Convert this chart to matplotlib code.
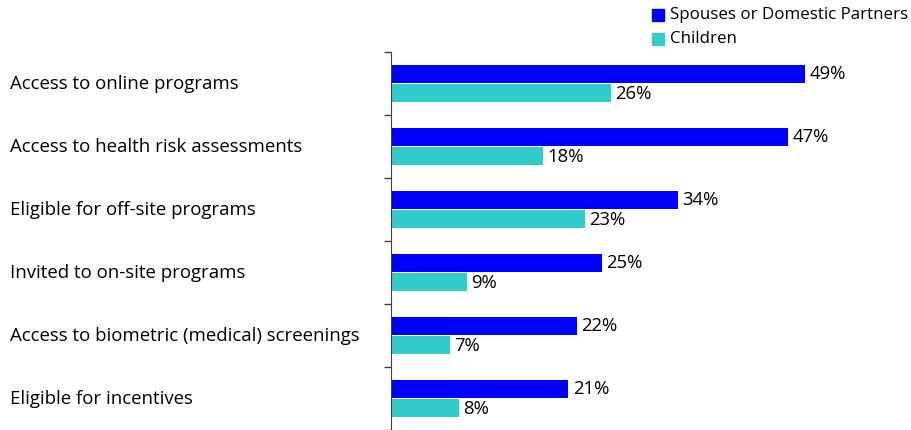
import numpy as np
import matplotlib
matplotlib.use("Agg")
import matplotlib.pyplot as plt
from matplotlib.patches import Rectangle

plt.rcParams['font.family'] = ['Open Sans', 'DejaVu Sans']

categories = ["Access to online programs",
              "Access to health risk assessments",
              "Eligible for off-site programs",
              "Invited to on-site programs",
              "Access to biometric (medical) screenings",
              "Eligible for incentives"]
spouses = [49, 47, 34, 25, 22, 21]
children = [26, 18, 23, 9, 7, 8]
series_names = ["Spouses or Domestic Partners", "Children"]
colors = ["#0000FF", "#33CCCC"]

fig = plt.figure(figsize=(9.12, 4.3), dpi=100)
ax = fig.add_axes([391/912, 0, (880-391)/912, 1 - 52/430])

n = len(categories)
pos = np.arange(n)
h = 0.29
# blue bar above, cyan below within each slot
ax.barh(pos - h/2 - 0.005, spouses, height=h, color=colors[0])
ax.barh(pos + h/2 + 0.005, children, height=h, color=colors[1])

for i in range(n):
    ax.text(spouses[i] + 0.5, pos[i] - h/2, f"{spouses[i]}%", va='center', ha='left', fontsize=13.3)
    ax.text(children[i] + 0.5, pos[i] + h/2 + 0.02, f"{children[i]}%", va='center', ha='left', fontsize=13.3)
    fig.text(10/912, 1 - (84 + 63*i)/430, categories[i], va='center', ha='left', fontsize=13.4)

ax.set_ylim(n - 0.5, -0.5)
ax.set_xlim(0, (880-391)/8.45)
ax.set_yticks(np.arange(n + 1) - 0.5)
ax.set_yticklabels([])
ax.tick_params(axis='y', length=5, width=1, direction='out', color='#404040')
ax.set_xticks([])
for s in ['top', 'right', 'bottom']:
    ax.spines[s].set_visible(False)
ax.spines['left'].set_color('#404040')

# legend
for j, name in enumerate(series_names):
    y = 1 - (15 + 24*j)/430
    fig.patches.append(Rectangle((652/912, y - 6/430), 12/912, 12/430, color=colors[j],
                                 transform=fig.transFigure, figure=fig))
    fig.text(670/912, y, name, va='center', ha='left', fontsize=12.2)

fig.savefig("out.png", dpi=100)
